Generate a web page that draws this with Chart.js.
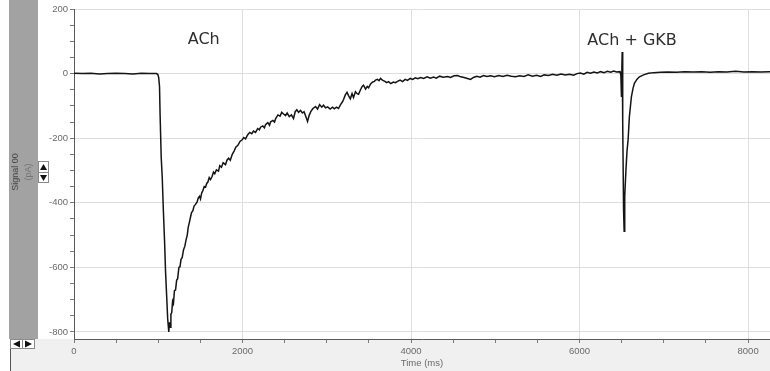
<!DOCTYPE html>
<html>
<head>
<meta charset="utf-8">
<script src="https://cdn.jsdelivr.net/npm/chart.js@4.4.1/dist/chart.umd.min.js"></script>
<style>
  html, body { margin: 0; padding: 0; background: #ffffff; }
  #wrap { width: 770px; height: 371px; }
</style>
</head>
<body>
<div id="wrap"><canvas id="trace" width="770" height="371"></canvas></div>
<script>
// Recorded sweep: [time (ms), current (pA)]
const sweep = [
  [0, 1], [100, 0], [200, 1], [300, -1], [400, 0], [500, 1], [600, 0], [700, -1], [800, 1], [900, 0],
  [980, 0], [995, -3], [1005, -12], [1015, -40], [1022, -130], [1035, -260], [1047, -320], [1060, -420],
  [1075, -520], [1086, -610], [1100, -690], [1112, -760], [1125, -800], [1132, -770], [1140, -785],
  [1150, -745], [1160, -740], [1170, -705], [1180, -712], [1192, -672], [1205, -670], [1218, -640],
  [1230, -635], [1245, -600], [1258, -598], [1270, -575], [1284, -570], [1300, -545], [1315, -535],
  [1330, -515], [1344, -500], [1356, -475], [1370, -460], [1383, -444], [1395, -430], [1410, -425],
  [1425, -410], [1442, -405], [1460, -398], [1475, -385], [1490, -380], [1501, -388], [1515, -370],
  [1530, -362], [1545, -350], [1561, -352], [1575, -340], [1590, -335], [1605, -322], [1620, -328],
  [1640, -318], [1655, -305], [1670, -310], [1690, -298], [1715, -302], [1730, -285], [1750, -290],
  [1770, -276], [1798, -282], [1815, -268], [1835, -262], [1855, -268], [1878, -250], [1900, -240],
  [1920, -228], [1945, -222], [1970, -210], [1996, -205], [2015, -198], [2036, -202], [2060, -190],
  [2085, -182], [2110, -186], [2130, -178], [2154, -182], [2180, -170], [2200, -174], [2214, -166],
  [2240, -162], [2260, -168], [2273, -158], [2300, -152], [2320, -160], [2332, -150], [2360, -145],
  [2380, -150], [2392, -140], [2420, -128], [2445, -132], [2465, -120], [2487, -125], [2510, -130],
  [2530, -122], [2555, -133], [2580, -128], [2605, -139], [2625, -118], [2645, -112], [2665, -120],
  [2688, -114], [2710, -122], [2730, -118], [2750, -132], [2772, -148], [2790, -130], [2810, -118],
  [2835, -108], [2867, -102], [2890, -110], [2915, -96], [2940, -104], [2961, -98], [2985, -106],
  [3010, -103], [3040, -110], [3068, -104], [3090, -109], [3115, -104], [3139, -108], [3165, -95],
  [3185, -88], [3199, -80], [3220, -66], [3240, -58], [3258, -68], [3280, -78], [3300, -62],
  [3317, -74], [3340, -56], [3360, -62], [3377, -64], [3400, -50], [3420, -40], [3436, -36],
  [3460, -48], [3480, -40], [3496, -44], [3520, -32], [3545, -26], [3565, -24], [3579, -20],
  [3600, -18], [3620, -22], [3638, -15], [3660, -20], [3690, -24], [3710, -28], [3733, -25],
  [3760, -31], [3790, -26], [3815, -28], [3840, -24], [3870, -20], [3900, -25], [3930, -18],
  [3958, -21], [3990, -15], [4020, -18], [4050, -13], [4080, -16], [4113, -12], [4150, -15],
  [4190, -10], [4230, -14], [4267, -11], [4300, -14], [4340, -8], [4380, -11], [4433, -9],
  [4470, -12], [4510, -7], [4552, -6], [4590, -10], [4630, -12], [4670, -15], [4706, -18],
  [4740, -12], [4780, -8], [4820, -11], [4860, -6], [4900, -9], [4944, -7], [4990, -10],
  [5040, -6], [5090, -9], [5140, -5], [5190, -8], [5240, -10], [5290, -7], [5340, -9], [5390, -4],
  [5440, -8], [5490, -5], [5537, -9], [5580, -4], [5630, -6], [5680, -2], [5730, -5], [5780, -1],
  [5830, -4], [5880, -2], [5929, -5], [5970, 0], [6010, 2], [6050, -2], [6090, 4], [6130, 1],
  [6170, 5], [6210, 2], [6250, 6], [6290, 3], [6330, 7], [6370, 4], [6404, 8], [6440, 5], [6480, 6],
  [6490, -5], [6497, -70], [6502, 20], [6506, 67], [6512, -150], [6522, -420], [6529, -488],
  [6536, -380], [6550, -300], [6563, -240], [6576, -205], [6591, -134], [6615, -72], [6635, -45],
  [6651, -30], [6680, -18], [6710, -10], [6760, -4], [6817, 1], [6880, 3], [6961, 4], [7050, 5],
  [7150, 4], [7250, 6], [7350, 5], [7450, 6], [7550, 4], [7650, 6], [7750, 5], [7850, 7],
  [7950, 5], [8050, 6], [8150, 5], [8260, 6]
];
const timeMs = sweep.map(p => p[0]);
const currentPa = sweep.map(p => p[1]);

// Axis extents and tick spacing
const timeRange = [0, 8260];
const currentRange = [-821.7, 200];
const timeStep = 500, timeLabelStep = 2000;
const currentStep = 50, currentLabelStep = 200;

// Stimulus labels (text, time ms, current pA)
const noteText = ['ACh', 'ACh + GKB'];
const noteTime = [1540, 6623];
const noteValue = [103, 100];

const axisFont = { family: 'Liberation Sans', size: 9.5 };
const gridColor = '#dedede';
const tickColor = '#7a7a7a';

// Evenly stepped tick values from lo to hi
function steppedTicks(lo, hi, step) {
  const out = [];
  for (let v = Math.ceil(lo / step) * step; v <= hi; v += step) out.push({ value: v });
  return out;
}

const chrome = {
  id: 'chrome',
  beforeDraw(chart) {
    const c = chart.ctx;
    c.save();
    c.fillStyle = '#ffffff';
    c.fillRect(0, 0, chart.width, chart.height);
    // bottom status band
    c.fillStyle = '#f0f0f0';
    c.fillRect(10, 339, chart.width - 10, chart.height - 339);
    // left channel strip
    c.fillStyle = '#a2a2a2';
    c.fillRect(9, 0, 29, 339);
    c.restore();
  },
  afterDraw(chart) {
    const c = chart.ctx;
    // channel name and unit, rotated
    [['Signal 00', 16, '#454545'], ['(pA)', 29, '#737373']].forEach(([txt, x, col]) => {
      c.save();
      c.fillStyle = col;
      c.font = '9px "Liberation Sans"';
      c.textAlign = 'center';
      c.textBaseline = 'middle';
      c.translate(x, 172);
      c.rotate(-Math.PI / 2);
      c.fillText(txt, 0, 0);
      c.restore();
    });

    // scale spinner
    c.save();
    c.fillStyle = '#ffffff';
    c.fillRect(38, 161, 10, 22);
    c.strokeStyle = '#8a8a8a';
    c.lineWidth = 1;
    c.strokeRect(38.5, 161.5, 10, 21);
    c.beginPath(); c.moveTo(38.5, 172.5); c.lineTo(48.5, 172.5); c.stroke();
    c.fillStyle = '#111111';
    c.beginPath(); c.moveTo(40, 170); c.lineTo(47, 170); c.lineTo(43.5, 164); c.closePath(); c.fill();
    c.beginPath(); c.moveTo(40, 175); c.lineTo(47, 175); c.lineTo(43.5, 181); c.closePath(); c.fill();
    c.restore();

    // scroll buttons
    c.save();
    c.fillStyle = '#ffffff';
    c.fillRect(10, 339, 25, 10);
    c.strokeStyle = '#8a8a8a';
    c.strokeRect(10.5, 339.5, 12, 9);
    c.strokeRect(22.5, 339.5, 12, 9);
    c.fillStyle = '#111111';
    c.beginPath(); c.moveTo(13, 344); c.lineTo(20, 340.5); c.lineTo(20, 347.5); c.closePath(); c.fill();
    c.beginPath(); c.moveTo(32, 344); c.lineTo(25, 340.5); c.lineTo(25, 347.5); c.closePath(); c.fill();
    c.strokeStyle = '#555555';
    c.beginPath(); c.moveTo(10.5, 349); c.lineTo(10.5, chart.height); c.stroke();
    c.restore();

    // stimulus labels
    const xs = chart.scales.x, ys = chart.scales.y;
    c.save();
    c.fillStyle = '#2e2e2e';
    c.font = '16px "DejaVu Sans"';
    c.textAlign = 'center';
    c.textBaseline = 'middle';
    noteText.forEach((t, i) => {
      c.fillText(t, xs.getPixelForValue(noteTime[i]), ys.getPixelForValue(noteValue[i]));
    });
    c.restore();
  }
};

new Chart(document.getElementById('trace'), {
  type: 'line',
  data: {
    datasets: [{
      data: timeMs.map((t, i) => ({ x: t, y: currentPa[i] })),
      borderColor: '#141414',
      borderWidth: 1.5,
      pointRadius: 0,
      tension: 0,
      fill: false
    }]
  },
  options: {
    responsive: false,
    animation: false,
    devicePixelRatio: 1,
    layout: { padding: { left: 38, top: 9, right: 0, bottom: 0 } },
    plugins: { legend: { display: false }, tooltip: { enabled: false } },
    scales: {
      x: {
        type: 'linear',
        min: timeRange[0],
        max: timeRange[1],
        afterBuildTicks(s) { s.ticks = steppedTicks(timeRange[0], timeRange[1], timeStep); },
        afterFit(s) { s.height = 32; },
        border: { display: true, color: '#5a5a5a', width: 1 },
        grid: {
          color: ctx => (ctx.tick && Math.round(ctx.tick.value) % timeLabelStep === 0) ? gridColor : 'rgba(0,0,0,0)',
          tickColor: tickColor,
          tickLength: 4
        },
        ticks: {
          autoSkip: false,
          maxRotation: 0,
          padding: 3,
          color: '#6a6a6a',
          font: axisFont,
          callback: v => (Math.round(v) % timeLabelStep === 0 ? String(Math.round(v)) : '')
        },
        title: {
          display: true,
          text: 'Time (ms)',
          color: '#6a6a6a',
          font: axisFont,
          padding: { top: 0, bottom: 2 }
        }
      },
      y: {
        type: 'linear',
        min: currentRange[0],
        max: currentRange[1],
        afterBuildTicks(s) { s.ticks = steppedTicks(currentRange[0], currentRange[1], currentStep); },
        afterFit(s) { s.width = 36; },
        border: { display: true, color: '#5a5a5a', width: 1 },
        grid: {
          color: ctx => (ctx.tick && Math.round(ctx.tick.value) % currentLabelStep === 0) ? gridColor : 'rgba(0,0,0,0)',
          tickColor: tickColor,
          tickLength: 4
        },
        ticks: {
          autoSkip: false,
          padding: 2,
          color: '#6a6a6a',
          font: axisFont,
          callback: v => (Math.round(v) % currentLabelStep === 0 ? String(Math.round(v)) : '')
        }
      }
    }
  },
  plugins: [chrome]
});
</script>
</body>
</html>
